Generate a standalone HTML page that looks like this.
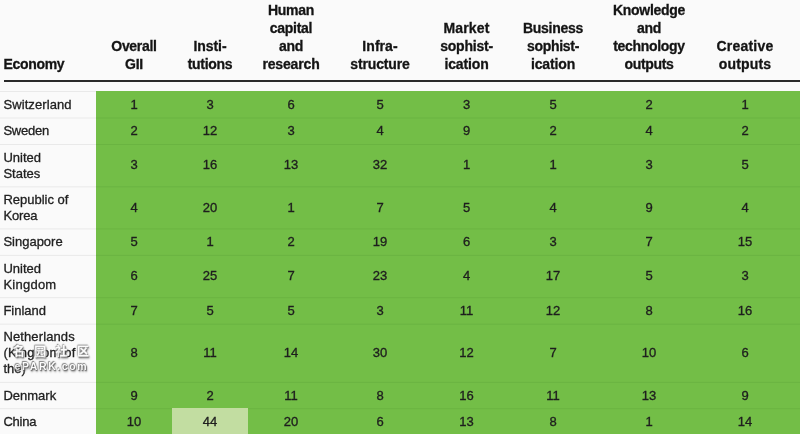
<!DOCTYPE html>
<html lang="en"><head><meta charset="utf-8"><title>Global Innovation Index ranking</title>
<style>
html,body{margin:0;padding:0;}
body{width:800px;height:434px;overflow:hidden;background:#fafafa;font-family:"Liberation Sans","Noto Sans CJK SC",sans-serif;color:#212121;position:relative;}
.t{position:absolute;left:0;top:0;width:800px;height:434px;overflow:hidden;}
.t div{position:absolute;}
.hb{left:4px;top:80px;width:796px;height:2px;background:#2a2a2a;}
.g{left:96px;top:91px;width:704px;height:343px;background:#73be47;}
.lt{background:#c2dda1;}
.ln{left:96px;width:704px;height:1px;background:#6ab441;}
.lg{left:0;width:96px;height:1px;background:#e9e9e9;}
.h{font-weight:bold;font-size:14px;letter-spacing:-0.3px;line-height:18px;text-align:center;color:#141414;-webkit-text-stroke:0.3px #141414;white-space:nowrap;}
.h.e{text-align:left;}
.c{font-size:13px;line-height:16px;text-align:center;white-space:nowrap;color:#1e1e1e;-webkit-text-stroke:0.33px #1e1e1e;}
.n{font-size:13px;line-height:16px;text-align:left;white-space:nowrap;left:3.4px;width:92px;-webkit-text-stroke:0.3px #212121;}
.wm{left:0;top:0;width:100px;height:434px;color:#fdfdfd;font-weight:bold;text-shadow:0 0 1.5px #444,0.8px 0.8px 1px #555,-0.6px -0.6px 1px #777,1px 1.5px 2px #888;opacity:.88;}
.wm span{display:block;position:absolute;white-space:nowrap;}
.wm .a{left:12.8px;top:342.5px;-webkit-text-stroke:0.3px #fdfdfd;font-size:12px;letter-spacing:9.4px;line-height:18px;}
.wm .b{left:14.5px;top:360px;font-size:10.5px;letter-spacing:1.6px;line-height:13px;}
</style></head><body>
<div class="t">
<div class="hb"></div>
<div class="h e" style="left:3.4px;top:55px;width:90px">Economy</div>
<div class="h" style="left:96px;top:37px;width:76px">Overall<br>GII</div>
<div class="h" style="left:172px;top:37px;width:76px"><span style="letter-spacing:-0.05px">Insti-</span><br>tutions</div>
<div class="h" style="left:248px;top:1px;width:86px">Human<br>capital<br>and<br><span style="letter-spacing:-0.16px">research</span></div>
<div class="h" style="left:334px;top:37px;width:92px"><span style="letter-spacing:0.05px">Infra-</span><br><span style="letter-spacing:-0.15px">structure</span></div>
<div class="h" style="left:426px;top:19px;width:81px"><span style="letter-spacing:0.15px">Market</span><br><span style="letter-spacing:-0.22px">sophist-</span><br><span style="letter-spacing:-0.13px">ication</span></div>
<div class="h" style="left:507px;top:19px;width:92px">Business<br>sophist-<br><span style="letter-spacing:-0.13px">ication</span></div>
<div class="h" style="left:599px;top:1px;width:100px">Knowledge<br>and<br>technology<br>outputs</div>
<div class="h" style="left:699px;top:37px;width:92px"><span style="letter-spacing:0.2px">Creative</span><br><span style="letter-spacing:0.2px">outputs</span></div>
<div class="g"></div>
<div class="lg" style="top:91px;opacity:1.00"></div>
<div class="lg" style="top:117px;opacity:0.50"></div><div class="ln" style="top:117px;opacity:0.50"></div><div class="lg" style="top:118px;opacity:0.50"></div><div class="ln" style="top:118px;opacity:0.50"></div>
<div class="lg" style="top:144px;opacity:1.00"></div><div class="ln" style="top:144px;opacity:1.00"></div>
<div class="lg" style="top:186px;opacity:0.70"></div><div class="ln" style="top:186px;opacity:0.70"></div><div class="lg" style="top:187px;opacity:0.30"></div><div class="ln" style="top:187px;opacity:0.30"></div>
<div class="lg" style="top:228px;opacity:0.60"></div><div class="ln" style="top:228px;opacity:0.60"></div><div class="lg" style="top:229px;opacity:0.40"></div><div class="ln" style="top:229px;opacity:0.40"></div>
<div class="lg" style="top:254px;opacity:0.10"></div><div class="ln" style="top:254px;opacity:0.10"></div><div class="lg" style="top:255px;opacity:0.90"></div><div class="ln" style="top:255px;opacity:0.90"></div>
<div class="lg" style="top:297px;opacity:0.80"></div><div class="ln" style="top:297px;opacity:0.80"></div><div class="lg" style="top:298px;opacity:0.20"></div><div class="ln" style="top:298px;opacity:0.20"></div>
<div class="lg" style="top:323px;opacity:0.30"></div><div class="ln" style="top:323px;opacity:0.30"></div><div class="lg" style="top:324px;opacity:0.70"></div><div class="ln" style="top:324px;opacity:0.70"></div>
<div class="lg" style="top:381px;opacity:0.10"></div><div class="ln" style="top:381px;opacity:0.10"></div><div class="lg" style="top:382px;opacity:0.90"></div><div class="ln" style="top:382px;opacity:0.90"></div>
<div class="lg" style="top:408px;opacity:0.80"></div><div class="ln" style="top:408px;opacity:0.80"></div><div class="lg" style="top:409px;opacity:0.20"></div><div class="ln" style="top:409px;opacity:0.20"></div>
<div class="lt" style="left:172.4px;top:408px;width:75.6px;height:26px"></div>
<div class="n" style="top:97px"><span style="letter-spacing:0.1px">Switzerland</span></div><div class="c" style="left:96px;top:97px;width:76px">1</div><div class="c" style="left:172px;top:97px;width:76px">3</div><div class="c" style="left:248px;top:97px;width:86px">6</div><div class="c" style="left:334px;top:97px;width:92px">5</div><div class="c" style="left:426px;top:97px;width:81px">3</div><div class="c" style="left:507px;top:97px;width:92px">5</div><div class="c" style="left:599px;top:97px;width:100px">2</div><div class="c" style="left:699px;top:97px;width:92px">1</div>
<div class="n" style="top:123px"><span style="letter-spacing:-0.22px">Sweden</span></div><div class="c" style="left:96px;top:123px;width:76px">2</div><div class="c" style="left:172px;top:123px;width:76px">12</div><div class="c" style="left:248px;top:123px;width:86px">3</div><div class="c" style="left:334px;top:123px;width:92px">4</div><div class="c" style="left:426px;top:123px;width:81px">9</div><div class="c" style="left:507px;top:123px;width:92px">2</div><div class="c" style="left:599px;top:123px;width:100px">4</div><div class="c" style="left:699px;top:123px;width:92px">2</div>
<div class="n" style="top:150px">United<br>States</div><div class="c" style="left:96px;top:157px;width:76px">3</div><div class="c" style="left:172px;top:157px;width:76px">16</div><div class="c" style="left:248px;top:157px;width:86px">13</div><div class="c" style="left:334px;top:157px;width:92px">32</div><div class="c" style="left:426px;top:157px;width:81px">1</div><div class="c" style="left:507px;top:157px;width:92px">1</div><div class="c" style="left:599px;top:157px;width:100px">3</div><div class="c" style="left:699px;top:157px;width:92px">5</div>
<div class="n" style="top:192px">Republic of<br><span style="letter-spacing:-0.12px">Korea</span></div><div class="c" style="left:96px;top:200px;width:76px">4</div><div class="c" style="left:172px;top:200px;width:76px">20</div><div class="c" style="left:248px;top:200px;width:86px">1</div><div class="c" style="left:334px;top:200px;width:92px">7</div><div class="c" style="left:426px;top:200px;width:81px">5</div><div class="c" style="left:507px;top:200px;width:92px">4</div><div class="c" style="left:599px;top:200px;width:100px">9</div><div class="c" style="left:699px;top:200px;width:92px">4</div>
<div class="n" style="top:234px">Singapore</div><div class="c" style="left:96px;top:234px;width:76px">5</div><div class="c" style="left:172px;top:234px;width:76px">1</div><div class="c" style="left:248px;top:234px;width:86px">2</div><div class="c" style="left:334px;top:234px;width:92px">19</div><div class="c" style="left:426px;top:234px;width:81px">6</div><div class="c" style="left:507px;top:234px;width:92px">3</div><div class="c" style="left:599px;top:234px;width:100px">7</div><div class="c" style="left:699px;top:234px;width:92px">15</div>
<div class="n" style="top:261px">United<br><span style="letter-spacing:0.25px">Kingdom</span></div><div class="c" style="left:96px;top:268px;width:76px">6</div><div class="c" style="left:172px;top:268px;width:76px">25</div><div class="c" style="left:248px;top:268px;width:86px">7</div><div class="c" style="left:334px;top:268px;width:92px">23</div><div class="c" style="left:426px;top:268px;width:81px">4</div><div class="c" style="left:507px;top:268px;width:92px">17</div><div class="c" style="left:599px;top:268px;width:100px">5</div><div class="c" style="left:699px;top:268px;width:92px">3</div>
<div class="n" style="top:303px">Finland</div><div class="c" style="left:96px;top:303px;width:76px">7</div><div class="c" style="left:172px;top:303px;width:76px">5</div><div class="c" style="left:248px;top:303px;width:86px">5</div><div class="c" style="left:334px;top:303px;width:92px">3</div><div class="c" style="left:426px;top:303px;width:81px">11</div><div class="c" style="left:507px;top:303px;width:92px">12</div><div class="c" style="left:599px;top:303px;width:100px">8</div><div class="c" style="left:699px;top:303px;width:92px">16</div>
<div class="n" style="top:329px"><span style="letter-spacing:0.12px">Netherlands</span><br><span style="letter-spacing:0.18px">(Kingdom of</span><br>the)</div><div class="c" style="left:96px;top:345px;width:76px">8</div><div class="c" style="left:172px;top:345px;width:76px">11</div><div class="c" style="left:248px;top:345px;width:86px">14</div><div class="c" style="left:334px;top:345px;width:92px">30</div><div class="c" style="left:426px;top:345px;width:81px">12</div><div class="c" style="left:507px;top:345px;width:92px">7</div><div class="c" style="left:599px;top:345px;width:100px">10</div><div class="c" style="left:699px;top:345px;width:92px">6</div>
<div class="n" style="top:388px">Denmark</div><div class="c" style="left:96px;top:388px;width:76px">9</div><div class="c" style="left:172px;top:388px;width:76px">2</div><div class="c" style="left:248px;top:388px;width:86px">11</div><div class="c" style="left:334px;top:388px;width:92px">8</div><div class="c" style="left:426px;top:388px;width:81px">16</div><div class="c" style="left:507px;top:388px;width:92px">11</div><div class="c" style="left:599px;top:388px;width:100px">13</div><div class="c" style="left:699px;top:388px;width:92px">9</div>
<div class="n" style="top:414px"><span style="letter-spacing:-0.25px">China</span></div><div class="c" style="left:96px;top:414px;width:76px">10</div><div class="c" style="left:172px;top:414px;width:76px">44</div><div class="c" style="left:248px;top:414px;width:86px">20</div><div class="c" style="left:334px;top:414px;width:92px">6</div><div class="c" style="left:426px;top:414px;width:81px">13</div><div class="c" style="left:507px;top:414px;width:92px">8</div><div class="c" style="left:599px;top:414px;width:100px">1</div><div class="c" style="left:699px;top:414px;width:92px">14</div>
<div class="wm"><span class="a">名园社区</span><span class="b">ePARK.com</span></div>
</div>
</body></html>
